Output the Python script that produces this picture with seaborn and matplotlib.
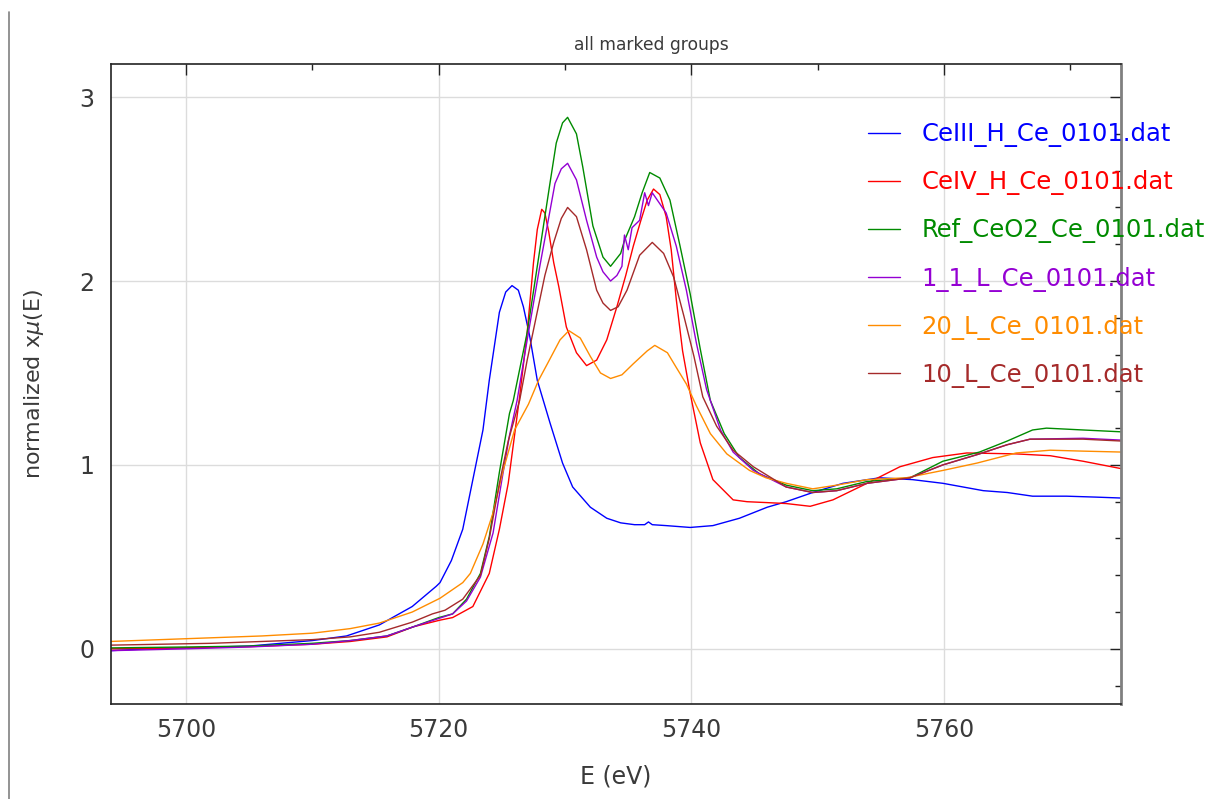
import numpy as np
import pandas as pd
import matplotlib
matplotlib.use("Agg")
import matplotlib.pyplot as plt
import seaborn as sns
from matplotlib.lines import Line2D

# ---------------- data ----------------
labels = ["CeIII_H_Ce_0101.dat", "CeIV_H_Ce_0101.dat", "Ref_CeO2_Ce_0101.dat",
          "1_1_L_Ce_0101.dat", "20_L_Ce_0101.dat", "10_L_Ce_0101.dat"]
colors = ["#0000ff", "#ff0000", "#008b00", "#9400d3", "#ff8c00", "#a52a2a"]

e_ceiii = [5694, 5697, 5700, 5705, 5710, 5712.7, 5715.3, 5717.9, 5719.8, 5720.1, 5721.0, 5721.9,
           5722.7, 5723.5, 5724.0, 5724.8, 5725.3, 5725.8, 5726.3, 5726.7, 5727.2, 5727.8, 5728.8,
           5729.8, 5730.6, 5732.0, 5733.3, 5734.4, 5735.5, 5736.3, 5736.6, 5736.9, 5738.0, 5739.9,
           5741.7, 5743.8, 5746.0, 5747.5, 5749.6, 5752.0, 5754.9, 5757.5, 5759.9, 5763.1, 5765.0,
           5767.0, 5769.7, 5772.0, 5774]
mu_ceiii = [-0.01, 0.0, 0.005, 0.015, 0.045, 0.07, 0.13, 0.23, 0.34, 0.36, 0.48, 0.65,
            0.92, 1.19, 1.46, 1.83, 1.94, 1.975, 1.95, 1.86, 1.70, 1.46, 1.23,
            1.01, 0.88, 0.77, 0.71, 0.685, 0.675, 0.675, 0.69, 0.675, 0.67, 0.66,
            0.67, 0.71, 0.77, 0.80, 0.85, 0.90, 0.93, 0.92, 0.90, 0.86, 0.85,
            0.83, 0.83, 0.825, 0.82]

e_ceiv = [5694, 5700, 5705, 5710, 5713, 5715.9, 5718, 5720.1, 5721.1, 5722.7, 5724.0, 5724.8,
          5725.5, 5726.4, 5727.0, 5727.5, 5727.8, 5728.15, 5728.4, 5728.7, 5729.1, 5729.5,
          5730.1, 5730.9, 5731.7, 5732.5, 5733.3, 5734.1, 5734.8, 5735.4, 5736.0, 5736.5,
          5737.0, 5737.5, 5738.0, 5738.4, 5738.8, 5739.3, 5739.9, 5740.7, 5741.7, 5743.3,
          5744.4, 5746.0, 5747.5, 5749.4, 5751.2, 5753.9, 5756.5, 5759.1, 5761.8, 5765.7,
          5768.4, 5771.0, 5774]
mu_ceiv = [0.0, 0.005, 0.012, 0.025, 0.04, 0.065, 0.12, 0.156, 0.17, 0.23, 0.41, 0.65,
           0.90, 1.37, 1.72, 2.10, 2.28, 2.39, 2.37, 2.27, 2.10, 1.97,
           1.75, 1.61, 1.54, 1.57, 1.68, 1.86, 2.03, 2.19, 2.33, 2.44,
           2.50, 2.47, 2.35, 2.17, 1.90, 1.62, 1.39, 1.12, 0.92, 0.81,
           0.80, 0.795, 0.79, 0.775, 0.81, 0.90, 0.99, 1.04, 1.065, 1.06,
           1.05, 1.02, 0.98]

e_ceo2 = [5694, 5700, 5705, 5710, 5713, 5715.9, 5718, 5720, 5721.1, 5722.2, 5723.3, 5724.0,
          5724.8, 5725.6, 5725.9, 5727.0, 5728.0, 5728.8, 5729.3, 5729.8, 5730.2, 5730.9,
          5731.4, 5732.2, 5733.0, 5733.6, 5734.4, 5734.7, 5735.5, 5736.1, 5736.7, 5737.5,
          5738.3, 5739.1, 5739.9, 5740.7, 5741.5, 5742.6, 5743.8, 5745.4, 5747.5, 5749.6,
          5751.5, 5753.9, 5757.3, 5759.9, 5762.8, 5765.0, 5767.0, 5768.1, 5771.0, 5774]
mu_ceo2 = [0.005, 0.01, 0.015, 0.03, 0.045, 0.07, 0.12, 0.17, 0.19, 0.27, 0.41, 0.61,
           0.96, 1.28, 1.35, 1.72, 2.17, 2.53, 2.75, 2.86, 2.89, 2.80,
           2.62, 2.30, 2.13, 2.08, 2.15, 2.22, 2.35, 2.48, 2.59, 2.56,
           2.44, 2.19, 1.93, 1.63, 1.35, 1.17, 1.04, 0.95, 0.89, 0.86,
           0.87, 0.91, 0.93, 1.02, 1.07, 1.13, 1.19, 1.20, 1.19, 1.18]

e_11l = [5694, 5700, 5705, 5710, 5713, 5715.9, 5718, 5720, 5721.1, 5722.2, 5723.3, 5724.3,
         5725.0, 5725.6, 5726.2, 5727.0, 5728.0, 5729.2, 5729.7, 5730.2, 5730.9, 5731.7,
         5732.5, 5733.0, 5733.6, 5734.1, 5734.5, 5734.7, 5735.0, 5735.3, 5735.9, 5736.3,
         5736.6, 5736.9, 5737.5, 5738.0, 5738.8, 5739.6, 5740.4, 5741.2, 5742.3, 5743.3,
         5744.9, 5747.5, 5749.6, 5751.5, 5753.9, 5757.3, 5759.9, 5762.8, 5765.0, 5766.8,
         5771.0, 5774]
mu_11l = [-0.01, 0.0, 0.01, 0.025, 0.045, 0.07, 0.12, 0.165, 0.19, 0.26, 0.39, 0.63,
          0.92, 1.16, 1.35, 1.68, 2.08, 2.53, 2.61, 2.64, 2.55, 2.33,
          2.13, 2.05, 2.00, 2.03, 2.08, 2.25, 2.17, 2.29, 2.33, 2.48,
          2.41, 2.48, 2.42, 2.37, 2.19, 1.95, 1.66, 1.41, 1.19, 1.07,
          0.97, 0.88, 0.85, 0.86, 0.90, 0.93, 1.00, 1.06, 1.11, 1.14,
          1.145, 1.135]

e_20l = [5694, 5702, 5706, 5710, 5713, 5715.3, 5717.9, 5720.1, 5721.9, 5722.5, 5723.5, 5724.3,
         5725.1, 5726.0, 5727.1, 5727.9, 5728.6, 5729.6, 5730.3, 5731.2, 5732.0, 5732.8,
         5733.6, 5734.5, 5735.4, 5736.5, 5737.1, 5738.1, 5738.8, 5739.6, 5740.4, 5741.5,
         5742.8, 5744.6, 5745.9, 5747.5, 5749.6, 5751.5, 5753.9, 5757.0, 5759.9, 5762.6,
         5765.7, 5768.4, 5771.0, 5774]
mu_20l = [0.04, 0.06, 0.07, 0.085, 0.11, 0.14, 0.20, 0.275, 0.36, 0.41, 0.57, 0.74,
          0.97, 1.19, 1.33, 1.46, 1.55, 1.68, 1.73, 1.69, 1.59, 1.50,
          1.47, 1.49, 1.55, 1.62, 1.65, 1.61, 1.53, 1.44, 1.32, 1.17,
          1.06, 0.97, 0.93, 0.90, 0.87, 0.89, 0.92, 0.93, 0.97, 1.01,
          1.065, 1.08, 1.075, 1.07]

e_10l = [5694, 5702, 5706, 5710, 5713, 5715.3, 5717.9, 5719.5, 5720.5, 5721.9, 5723.3, 5724.0,
         5724.8, 5725.5, 5726.4, 5727.0, 5727.7, 5728.4, 5729.1, 5729.7, 5730.2, 5730.9,
         5731.7, 5732.5, 5733.0, 5733.6, 5734.2, 5734.9, 5735.9, 5736.9, 5737.8, 5738.6,
         5739.4, 5740.2, 5740.9, 5742.0, 5743.3, 5744.9, 5747.5, 5749.6, 5751.5, 5753.9,
         5757.3, 5759.9, 5762.8, 5765.0, 5766.8, 5771.0, 5774]
mu_10l = [0.02, 0.03, 0.04, 0.05, 0.065, 0.09, 0.145, 0.19, 0.21, 0.27, 0.40, 0.60,
          0.90, 1.13, 1.35, 1.57, 1.80, 2.03, 2.21, 2.34, 2.40, 2.35,
          2.17, 1.95, 1.88, 1.84, 1.86, 1.95, 2.14, 2.21, 2.15, 2.02,
          1.81, 1.59, 1.37, 1.21, 1.08, 0.99, 0.88, 0.85, 0.86, 0.90,
          0.93, 1.00, 1.06, 1.11, 1.14, 1.14, 1.13]

xticks = [5700, 5720, 5740, 5760]
yticks = [0, 1, 2, 3]

# ---------------- build table ----------------
series = [(e_ceiii, mu_ceiii), (e_ceiv, mu_ceiv), (e_ceo2, mu_ceo2),
          (e_11l, mu_11l), (e_20l, mu_20l), (e_10l, mu_10l)]
frames = []
for lab, (e, m) in zip(labels, series):
    frames.append(pd.DataFrame({"E": e, "mu": m, "group": lab}))
df = pd.concat(frames, ignore_index=True)
palette = dict(zip(labels, colors))

# ---------------- plot ----------------
sns.set_theme(style="white")
plt.rcParams["font.family"] = ["DejaVu Sans"]
txt = "#3a3a3a"

fig = plt.figure(figsize=(12.08, 7.99), dpi=100)
ax = fig.add_axes([111 / 1208, 95 / 799, 1010 / 1208, 640 / 799])

sns.lineplot(data=df, x="E", y="mu", hue="group", hue_order=labels, palette=palette,
             estimator=None, sort=False, linewidth=1.0, ax=ax, legend=False)

ax.set_xlim(5694.06, 5774.0)
ax.set_ylim(-0.30, 3.18)
ax.set_xticks(xticks)
ax.set_yticks(yticks)
ax.set_xticks(np.arange(5710, 5771, 20), minor=True)
ax.set_yticks(np.arange(-0.2, 3.15, 0.2), minor=True)
ax.tick_params(which="both", direction="in", top=True, right=True, colors="#222222",
               labelcolor=txt, labelsize=17)
ax.tick_params(which="major", length=8, width=1.0)
ax.tick_params(which="minor", length=4, width=1.0)
ax.tick_params(axis="x", pad=10)
ax.tick_params(axis="y", pad=12)
ax.grid(True, which="major", color="#dcdcdc", linewidth=1.0)
for s in ["left", "bottom", "top"]:
    ax.spines[s].set_color("#222222")
    ax.spines[s].set_linewidth(1.2)
ax.spines["right"].set_color("#808080")
ax.spines["right"].set_linewidth(2.0)

ax.set_title("all marked groups", fontsize=12.3, color=txt, pad=10, x=0.535)
ax.set_xlabel("E (eV)", fontsize=17, color=txt, labelpad=16)
ax.set_ylabel(r"normalized x$\mu$(E)", fontsize=16, color=txt, labelpad=24)

handles = [Line2D([0], [0], color=c, lw=1.0) for c in colors]
leg = ax.legend(handles, labels, loc="upper left", bbox_to_anchor=(0.7495, 0.909),
                frameon=False, fontsize=17.5, handlelength=1.3, handletextpad=0.9,
                labelspacing=0.95, borderpad=0, borderaxespad=0)
for t, c in zip(leg.get_texts(), colors):
    t.set_color(c)

fig.add_artist(Line2D([9 / 1208, 9 / 1208], [0, 1 - 12 / 799], transform=fig.transFigure,
                      color="#808080", linewidth=1.2))

fig.savefig("out.png", dpi=100, facecolor="white")
